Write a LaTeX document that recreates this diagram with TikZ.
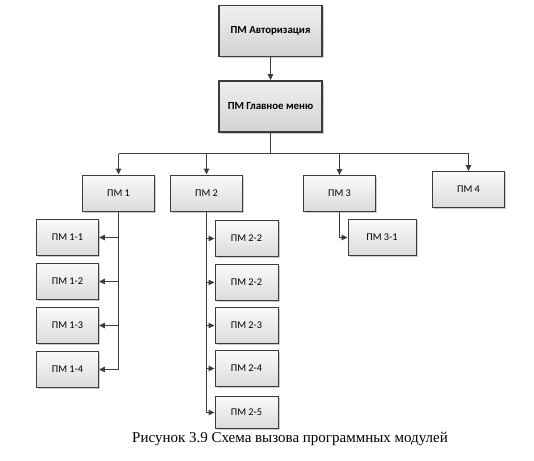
\documentclass[tikz,border=0pt]{standalone}
\usepackage{fontspec}
\setmainfont{Liberation Serif}
\newfontfamily\boxfont{Carlito}
\usetikzlibrary{positioning,shadows,arrows.meta}
\definecolor{linegray}{HTML}{3C3C3C}
\tikzset{
  modbox/.style={draw=linegray, line width=0.9pt, top color=gray!4, bottom color=gray!28,
    drop shadow={shadow xshift=1.5pt, shadow yshift=-1.5pt, opacity=0.4},
    font=\boxfont\fontsize{10.3}{12}\selectfont, inner sep=0pt},
  topbox/.style={modbox, line width=1.8pt, top color=gray!12, bottom color=gray!35,
    minimum width=103pt, minimum height=51pt,
    font=\boxfont\bfseries\fontsize{10.8}{13}\selectfont},
  midbox/.style={modbox, minimum width=72pt, minimum height=36pt},
  subbox/.style={modbox, minimum width=62pt, minimum height=36pt},
  link/.style={draw=linegray, line width=1.1pt},
  callarrow/.style={link, -{Triangle[length=6pt,width=5.5pt]}}
}
\begin{document}
\begin{tikzpicture}[x=1pt, y=-1pt]
        \useasboundingbox (0,0) rectangle (534,460);
        % Define nodes
        \node (auth) [topbox] at (270.5,31) {ПМ Авторизация};
        \node (menu) [topbox, below of=auth, node distance=75.5pt] {ПМ Главное меню};
        \coordinate (split) at ([yshift=-20.6pt]menu.south);
        \node (pm1) [midbox] at (118.5,193) {ПМ 1};
        \node (pm2) [midbox, right of=pm1, node distance=88pt] {ПМ 2};
        \node (pm3) [midbox] at (339.5,193.5) {ПМ 3};
        \node (pm4) [midbox] at (468.5,189.5) {ПМ 4};
        \node (pm31) [subbox, minimum width=68pt] at (382,237.5) {ПМ 3-1};
        \node (pm11) [subbox] at (67.5,237.5) {ПМ 1-1};
        \node (pm12) [subbox, below of=pm11, node distance=44pt] {ПМ 1-2};
        \node (pm13) [subbox, below of=pm12, node distance=44pt] {ПМ 1-3};
        \node (pm14) [subbox, below of=pm13, node distance=44pt] {ПМ 1-4};
        \node (pm21) [subbox, minimum width=63pt] at (246.5,238.5) {ПМ 2-2};
        \node (pm22) [subbox, minimum width=63pt, below of=pm21, node distance=44pt] {ПМ 2-2};
        \node (pm23) [subbox, minimum width=63pt, below of=pm22, node distance=43pt] {ПМ 2-3};
        \node (pm24) [subbox, minimum width=63pt, below of=pm23, node distance=43pt] {ПМ 2-4};
        \node (pm25) [subbox, minimum width=63pt, minimum height=32pt, below of=pm24, node distance=44pt] {ПМ 2-5};
        \node (caption) [font=\fontsize{15}{17}\selectfont] at (290,439) {Рисунок 3.9 Схема вызова программных модулей};

        % Draw arrows
        \draw[callarrow] (auth) -- (menu);
        \draw[link] (menu) -- (split);
        \draw[link] (split -| pm1) -- (split -| pm4);
        \draw[callarrow] (split -| pm1) -- (pm1);
        \draw[callarrow] (split -| pm2) -- (pm2);
        \draw[callarrow] (split -| pm3) -- (pm3);
        \draw[callarrow] (split -| pm4) -- (pm4);
        \draw[callarrow] (pm1.south) |- (pm14.east);
        \draw[callarrow] (pm1.south |- pm11.east) -- (pm11.east);
        \draw[callarrow] (pm1.south |- pm12.east) -- (pm12.east);
        \draw[callarrow] (pm1.south |- pm13.east) -- (pm13.east);
        \draw[callarrow] (pm2.south) |- (pm25.west);
        \draw[callarrow] (pm2.south |- pm21.west) -- (pm21.west);
        \draw[callarrow] (pm2.south |- pm22.west) -- (pm22.west);
        \draw[callarrow] (pm2.south |- pm23.west) -- (pm23.west);
        \draw[callarrow] (pm2.south |- pm24.west) -- (pm24.west);
        \draw[callarrow] (pm3.south) |- (pm31.west);
    \end{tikzpicture}
\end{document}
